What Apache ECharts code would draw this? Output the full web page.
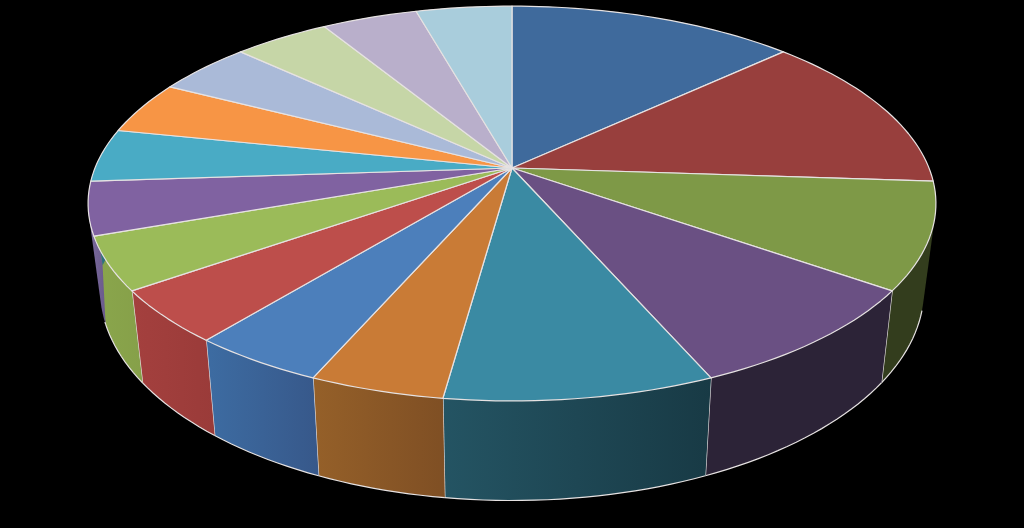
<!DOCTYPE html>
<html>
<head>
<meta charset="utf-8">
<style>html,body{margin:0;padding:0;background:#000}#c{width:1024px;height:528px}</style>
<script src="https://cdn.jsdelivr.net/npm/echarts@6/dist/echarts.min.js"></script>
</head>
<body>
<div id="c"></div>
<script>
const categories = ['1','2','3','4','5','6','7','8','9','10','11','12','13','14','15','16'];
const values = [3,3,2,2,2,1,1,1,1,1,1,1,1,1,1,1];

// styling
const topColors = ['#3F6A9C','#983F3D','#7E9947','#6A5083','#3A8AA3','#C97B36','#4C7FBB','#BD4E4B','#9BBB59','#8062A1','#49ABC5','#F79545','#AABAD8','#C6D6A7','#B9AFCB','#A9CDDC'];
const wallColors = [['#2f4f75','#2f4f75'],['#6f2e2c','#6f2e2c'],['#333D1D','#333D1D'],['#2C2337','#2C2337'],['#245463','#183A45'],['#956029','#7F4F24'],['#3D6CA2','#37588A'],['#A4403E','#9A3B39'],['#8AA64C','#86A049'],['#7C6C9E','#6A5A8C'],['#2f6f80','#2f6f80'],['#a56230','#a56230'],['#75819a','#75819a'],['#8a9570','#8a9570'],['#7f7690','#7f7690'],['#74909c','#74909c']];
const LINE = '#E6E2E2';
const K = 0.18, SX = 417, SY = 191, CX = 512, CY = 168;
const BX = 0.972, BY = 1.07, BD = -0.436;
const EDGE_FROM = 106, EDGE_TO = 251;

const total = values.reduce((a,b)=>a+b,0);
const starts = []; let acc = 0;
values.forEach(v=>{starts.push(acc/total*360); acc+=v;});

function rimTop(deg){
  const r = deg*Math.PI/180, u = Math.sin(r), v = Math.cos(r), d = 1+K*v;
  return [u/d, v/d];
}
function rimBottom(deg){
  const p = rimTop(deg);
  return [p[0]*BX, p[1]*BY+BD];
}
function arc(fn, a0, a1, api){
  const n = Math.max(2, Math.ceil((a1-a0)/1.5)), pts = [];
  for(let i=0;i<=n;i++) pts.push(api.coord(fn(a0+(a1-a0)*i/n)));
  return pts;
}
function hull(points){
  const p = points.slice().sort((a,b)=>a[0]-b[0]||a[1]-b[1]);
  const cross = (o,a,b)=>(a[0]-o[0])*(b[1]-o[1])-(a[1]-o[1])*(b[0]-o[0]);
  const lo=[], up=[];
  p.forEach(q=>{while(lo.length>1&&cross(lo[lo.length-2],lo[lo.length-1],q)<=0)lo.pop();lo.push(q);});
  p.slice().reverse().forEach(q=>{while(up.length>1&&cross(up[up.length-2],up[up.length-1],q)<=0)up.pop();up.push(q);});
  lo.pop();up.pop();
  return lo.concat(up);
}
function sliceRange(i){ return [starts[i], starts[i]+values[i]/total*360]; }

function renderWall(params, api){
  const i = params.dataIndex, [a0,a1] = sliceRange(i);
  const t = arc(rimTop,a0,a1,api), b = arc(rimBottom,a0,a1,api);
  const c = wallColors[i], children = [{
    type:'polygon', shape:{points:hull(t.concat(b))},
    style:{fill:{type:'linear',x:0,y:0,x2:1,y2:0,colorStops:[{offset:0,color:c[0]},{offset:1,color:c[1]}]},stroke:null}
  }];
  const e0 = Math.max(a0,EDGE_FROM), e1 = Math.min(a1,EDGE_TO);
  if(e1>e0){
    children.push({type:'polyline',shape:{points:arc(rimBottom,e0,e1,api)},style:{stroke:LINE,lineWidth:1.2,fill:null}});
  }
  if(a1>=EDGE_FROM && a1<=EDGE_TO-2){
    const p = t[t.length-1], q = b[b.length-1];
    children.push({type:'line',shape:{x1:p[0],y1:p[1],x2:q[0],y2:q[1]},style:{stroke:LINE,lineWidth:1.3}});
  }
  return {type:'group',children};
}
function renderTop(params, api){
  const i = params.dataIndex, [a0,a1] = sliceRange(i);
  const pts = [api.coord([0,0])].concat(arc(rimTop,a0,a1,api));
  return {type:'polygon',shape:{points:pts},style:{fill:topColors[i],stroke:LINE,lineWidth:1.2,lineJoin:'round'}};
}

const rows = values.map((v,i)=>[i,v,categories[i]]);
const chart = echarts.init(document.getElementById('c'),null,{renderer:'canvas'});
chart.setOption({
  animation:false,
  backgroundColor:'#000',
  grid:{left:0,right:0,top:0,bottom:0},
  xAxis:{type:'value',min:-CX/SX,max:(1024-CX)/SX,show:false},
  yAxis:{type:'value',min:-(528-CY)/SY,max:CY/SY,show:false},
  series:[
    {type:'custom',coordinateSystem:'cartesian2d',clip:false,silent:true,z:1,data:rows,encode:{x:0,y:1},renderItem:renderWall},
    {type:'custom',coordinateSystem:'cartesian2d',clip:false,silent:true,z:2,data:rows,encode:{x:0,y:1},renderItem:renderTop}
  ]
});
</script>
</body>
</html>
